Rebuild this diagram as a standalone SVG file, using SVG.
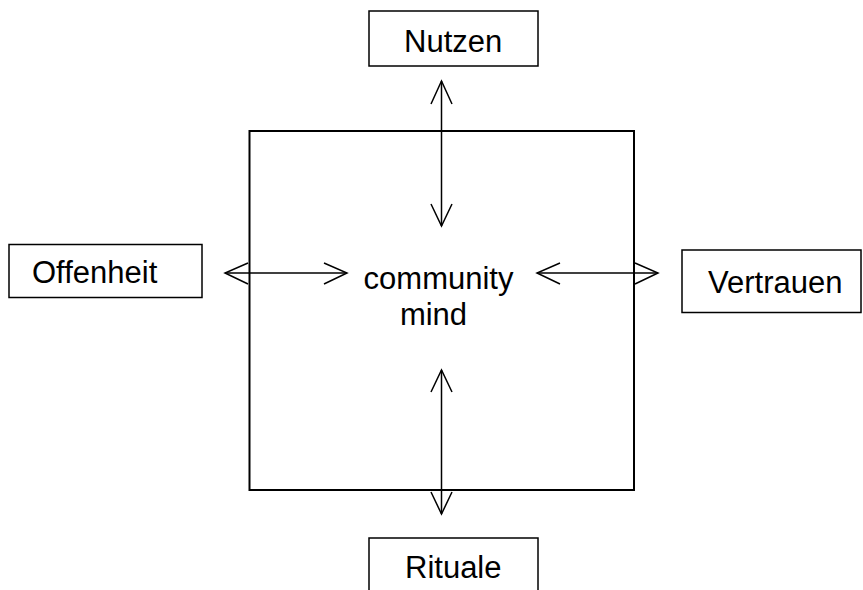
<svg xmlns="http://www.w3.org/2000/svg" width="863" height="590" viewBox="0 0 863 590">
<style>
.box{fill:#fff;stroke:#000;stroke-width:1.5}
.sq{fill:none;stroke:#000;stroke-width:2}
.t{font-family:"Liberation Sans",Arial,sans-serif;font-size:31px;fill:#000}
.ln{stroke:#000;stroke-width:1.5;fill:none}
</style>
<rect width="863" height="590" fill="#fff"/>
<g id="center">
<rect class="sq" x="249.5" y="131" width="384.5" height="359"/>
<text class="t" x="438.5" y="289" text-anchor="middle">community</text>
<text class="t" x="433.5" y="325" text-anchor="middle">mind</text>
</g>
<g id="nutzen">
<rect class="box" x="369" y="11" width="169" height="55"/>
<text class="t" x="404" y="52">Nutzen</text>
</g>
<g id="offenheit">
<rect class="box" x="9" y="244.5" width="193" height="53"/>
<text class="t" x="32" y="283">Offenheit</text>
</g>
<g id="vertrauen">
<rect class="box" x="682" y="250" width="179" height="62.5"/>
<text class="t" x="708" y="293">Vertrauen</text>
</g>
<g id="rituale">
<rect class="box" x="369" y="538" width="169" height="60"/>
<text class="t" x="405" y="578">Rituale</text>
</g>
<g id="connectors">
<line class="ln" x1="441.5" y1="81" x2="441.5" y2="226"/>
<polyline class="ln" points="431,104 441.5,81 452,104"/>
<polyline class="ln" points="431,204 441.5,226 452,204"/>
<line class="ln" x1="441.5" y1="370" x2="441.5" y2="514"/>
<polyline class="ln" points="431,392 441.5,370 452,392"/>
<polyline class="ln" points="431,492 441.5,514 452,492"/>
<line class="ln" x1="225" y1="273" x2="347" y2="273"/>
<polyline class="ln" points="248,263 225,273 248,284"/>
<polyline class="ln" points="324,263 347,273 324,284"/>
<line class="ln" x1="537" y1="273" x2="658" y2="273"/>
<polyline class="ln" points="560,263 537,273 560,284"/>
<polyline class="ln" points="635,263 658,273 635,284"/>
</g>
</svg>
